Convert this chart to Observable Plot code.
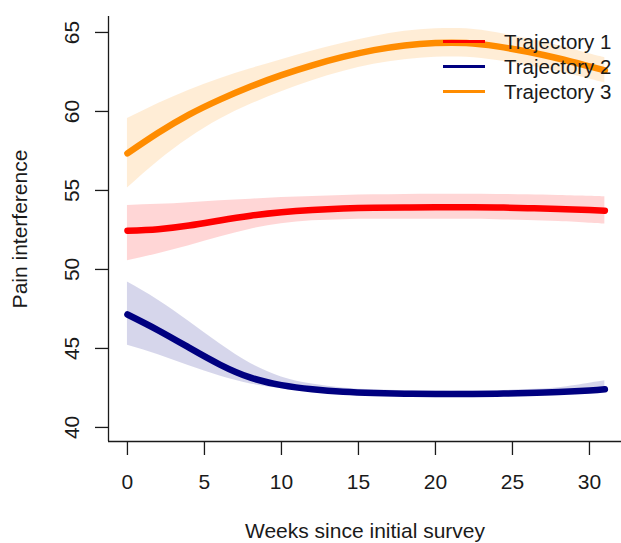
<!DOCTYPE html>
<html><head><meta charset="utf-8">
<script src="https://cdn.jsdelivr.net/npm/d3@7"></script>
<script src="https://cdn.jsdelivr.net/npm/@observablehq/plot@0.6"></script>
<style>
body{margin:0;background:#fff;font-family:"Liberation Sans",Arial,sans-serif;}
#wrap{position:relative;width:621px;height:543px;}
#legend{position:absolute;left:443px;top:29px;font-size:20.5px;color:#1a1a1a;}
.row{display:flex;align-items:center;height:25px;white-space:nowrap;}
.sw{width:42px;height:3px;margin-right:19px;}
</style></head><body>
<div id="wrap"><div id="chart"></div><div id="legend"></div></div>
<script>
// ---- data ----
const weeks = [0, 2, 4, 6, 8, 10, 12, 14, 16, 18, 20, 22, 24, 26, 28, 30, 31];

const traj1Mean  = [52.45, 52.55, 52.78, 53.1, 53.4, 53.62, 53.76, 53.85, 53.9, 53.92, 53.93, 53.93, 53.92, 53.88, 53.83, 53.76, 53.72];
const traj1Lower = [50.55, 51.0, 51.5, 52.05, 52.55, 52.9, 53.08, 53.15, 53.17, 53.18, 53.18, 53.17, 53.15, 53.1, 53.03, 52.93, 52.88];
const traj1Upper = [54.05, 54.12, 54.22, 54.35, 54.45, 54.55, 54.62, 54.68, 54.72, 54.75, 54.76, 54.76, 54.75, 54.72, 54.68, 54.63, 54.6];

const traj2Mean  = [47.15, 46.15, 45.05, 43.98, 43.15, 42.68, 42.42, 42.26, 42.18, 42.14, 42.12, 42.12, 42.14, 42.18, 42.24, 42.34, 42.42];
const traj2Lower = [45.2, 44.6, 43.9, 43.25, 42.75, 42.45, 42.25, 42.12, 42.05, 42.02, 42.0, 42.0, 42.02, 42.05, 42.1, 42.17, 42.2];
const traj2Upper = [49.2, 48.05, 46.7, 45.3, 44.05, 43.2, 42.75, 42.5, 42.38, 42.32, 42.3, 42.3, 42.33, 42.4, 42.52, 42.8, 42.95];

const traj3Mean  = [57.35, 58.65, 59.8, 60.75, 61.58, 62.3, 62.92, 63.45, 63.88, 64.18, 64.33, 64.33, 64.12, 63.78, 63.35, 62.85, 62.6];
const traj3Lower = [55.15, 56.85, 58.3, 59.5, 60.45, 61.25, 61.95, 62.53, 62.98, 63.28, 63.43, 63.43, 63.22, 62.9, 62.53, 62.05, 61.8];
const traj3Upper = [59.55, 60.5, 61.35, 62.07, 62.7, 63.28, 63.82, 64.32, 64.75, 65.07, 65.23, 65.23, 64.98, 64.6, 64.17, 63.65, 63.4];

const seriesNames = ["Trajectory 1", "Trajectory 2", "Trajectory 3"];
const seriesColors = ["#ff0000", "#000080", "#ff8c00"];

const xTicks = [0, 5, 10, 15, 20, 25, 30];
const yTicks = [40, 45, 50, 55, 60, 65];
const xTitle = "Weeks since initial survey";
const yTitle = "Pain interference";

// ---- build table ----
const means = [traj1Mean, traj2Mean, traj3Mean];
const lowers = [traj1Lower, traj2Lower, traj3Lower];
const uppers = [traj1Upper, traj2Upper, traj3Upper];
const rows = [];
seriesNames.forEach((s, k) => weeks.forEach((w, i) => rows.push({series: s, week: w, mean: means[k][i], lower: lowers[k][i], upper: uppers[k][i]})));

const xDomain = [-1.23, 32.08];
const yDomain = [39.11, 66.01];
const curve = "natural";

const marks = [];
seriesNames.forEach((s, k) => {
  const d = rows.filter(r => r.series === s);
  marks.push(Plot.areaY(d, {x: "week", y1: "lower", y2: "upper", fill: seriesColors[k], fillOpacity: 0.16, curve}));
});
seriesNames.forEach((s, k) => {
  const d = rows.filter(r => r.series === s);
  marks.push(Plot.line(d, {x: "week", y: "mean", stroke: seriesColors[k], strokeWidth: 6.5, strokeLinecap: "round", curve}));
});

const chart = Plot.plot({
  width: 621, height: 543,
  marginLeft: 108, marginRight: 0, marginTop: 16, marginBottom: 102,
  x: {domain: xDomain},
  y: {domain: yDomain},
  style: {fontFamily: '"Liberation Sans", Arial, sans-serif', fontSize: "21px", color: "#1a1a1a", background: "white", overflow: "visible"},
  marks: [
    ...marks,
    Plot.ruleX([xDomain[0]], {strokeWidth: 1.3}),
    Plot.ruleY([yDomain[0]], {strokeWidth: 1.3}),
    Plot.axisX({ticks: xTicks, tickSize: 14, tickPadding: 19, label: null, strokeWidth: 1.3, tickFormat: d => String(d)}),
    Plot.axisY({ticks: yTicks, tickSize: 13, label: null, strokeWidth: 1.3, tickFormat: () => ""}),
    Plot.text(yTicks, {y: d => d, text: d => String(d), frameAnchor: "left", dx: -36, rotate: -90, textAnchor: "middle", lineAnchor: "middle", fontSize: 21}),
    Plot.text([yTitle], {frameAnchor: "left", dx: -88, rotate: -90, textAnchor: "middle", lineAnchor: "middle", fontSize: 21}),
    Plot.text([xTitle], {frameAnchor: "bottom", dy: 90, textAnchor: "middle", lineAnchor: "middle", fontSize: 21})
  ]
});
document.getElementById("chart").appendChild(chart);

const legend = document.getElementById("legend");
seriesNames.forEach((s, k) => {
  const row = document.createElement("div");
  row.className = "row";
  const sw = document.createElement("span");
  sw.className = "sw";
  sw.style.background = seriesColors[k];
  const t = document.createElement("span");
  t.textContent = s;
  row.appendChild(sw); row.appendChild(t);
  legend.appendChild(row);
});
</script>
</body></html>
